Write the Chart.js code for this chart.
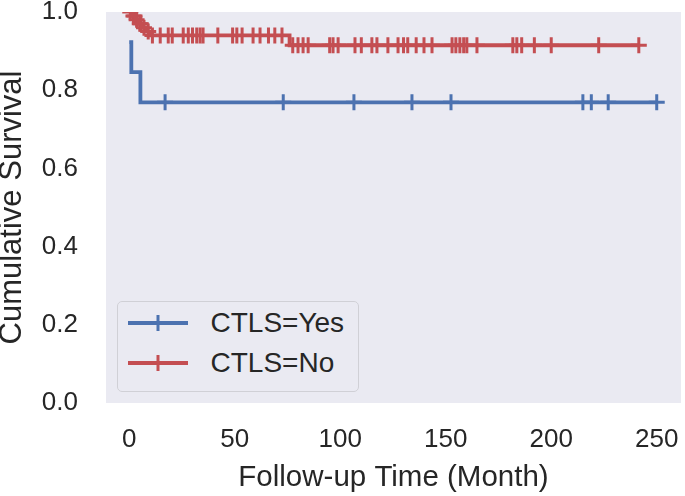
<!DOCTYPE html>
<html>
<head>
<meta charset="utf-8">
<script src="https://cdn.jsdelivr.net/npm/chart.js@4.4.1/dist/chart.umd.min.js"></script>
<style>
  body { margin: 0; background: #fff; }
  #wrap { position: relative; width: 685px; height: 496px; }
  #legend {
    position: absolute; left: 117px; top: 301px; width: 242px; height: 91px;
    box-sizing: border-box; border: 1.5px solid #d0d0d6; border-radius: 5px;
    background: #eaeaf2;
    font-family: "Liberation Sans", Arial, sans-serif; font-size: 28px; color: #262626;
  }
  .row { position: absolute; left: 9.5px; height: 30px; display: flex; align-items: center; }
  .row svg { margin-right: 23px; }
</style>
</head>
<body>
<div id="wrap">
  <canvas id="chart" width="685" height="496"></canvas>
  <div id="legend"></div>
</div>
<script>
// Kaplan-Meier steps: event times and survival after each event
const yesTimes = [0, 1, 5.3, 250]
const yesSurvival = [0.923, 0.846, 0.769, 0.769]
const yesCensored = [17, 73, 106.5, 134, 152.5, 215, 219, 227, 250]

const noTimes = [0, 1.5, 3, 4.5, 6, 8, 10, 76, 241.5]
const noSurvival = [1, 0.99, 0.98, 0.97, 0.96, 0.95, 0.94, 0.915, 0.915]
const noCensored = [0.5, 2, 2.5, 3.5, 5, 5.5, 7, 9, 11, 14.7, 18.5, 20.4, 25.6, 28, 30, 32, 33.6,
  35, 42, 49, 51, 53.5, 58.7, 62, 66, 69, 72.4, 77.5, 80, 82.4, 84.8, 95, 96.6, 99, 107, 110,
  115, 117.4, 122.6, 127.4, 130, 132, 136, 139.7, 143.5, 153, 154.8, 156.7, 158.5, 160, 164.8,
  181.8, 183.7, 186, 192, 200, 222.5, 241.5]

const groups = ['CTLS=Yes', 'CTLS=No']
const colors = ['#4c72b0', '#c44e52']

const xTicks = [0, 50, 100, 150, 200, 250]
const yTicks = [0, 0.2, 0.4, 0.6, 0.8, 1.0]

function survivalAt (times, surv, t) {
  let value = surv[0]
  times.forEach((time, i) => { if (time <= t) value = surv[i] })
  return value
}

function curve (times, surv) {
  return times.map((t, i) => ({ x: t, y: surv[i] }))
}

function censorMarks (censored, times, surv) {
  return censored.map((t) => ({ x: t, y: survivalAt(times, surv, t) }))
}

function lineSet (label, data, color) {
  return {
    label: label,
    data: data,
    showLine: true,
    stepped: true,
    borderColor: color,
    borderWidth: 3.8,
    pointRadius: 0,
    fill: false
  }
}

function censorSet (label, data, color) {
  return {
    label: label,
    data: data,
    showLine: false,
    pointStyle: 'cross',
    pointRadius: 8,
    pointBorderWidth: 3,
    borderColor: color,
    backgroundColor: color
  }
}

function noPadding (scale) {
  scale.paddingTop = 0
  scale.paddingBottom = 0
  scale.paddingLeft = 0
  scale.paddingRight = 0
}

const plotBackground = {
  id: 'plotBackground',
  beforeDraw (chart) {
    const { ctx, chartArea } = chart
    ctx.save()
    ctx.fillStyle = '#eaeaf2'
    ctx.fillRect(chartArea.left, chartArea.top, chartArea.right - chartArea.left, chartArea.bottom - chartArea.top)
    ctx.restore()
  }
}

Chart.defaults.font.family = "'Liberation Sans', Arial, sans-serif"
Chart.defaults.color = '#262626'

new Chart(document.getElementById('chart').getContext('2d'), {
  type: 'scatter',
  data: {
    datasets: [
      lineSet(groups[0], curve(yesTimes, yesSurvival), colors[0]),
      censorSet(groups[0], censorMarks(yesCensored, yesTimes, yesSurvival), colors[0]),
      lineSet(groups[1], curve(noTimes, noSurvival), colors[1]),
      censorSet(groups[1], censorMarks(noCensored, noTimes, noSurvival), colors[1])
    ]
  },
  options: {
    responsive: false,
    animation: false,
    layout: { autoPadding: false, padding: { top: 12, right: 4, left: 0, bottom: 0 } },
    plugins: { legend: { display: false }, tooltip: { enabled: false } },
    scales: {
      x: {
        type: 'linear',
        min: -11,
        max: 261.5,
        grid: { display: false, drawTicks: false },
        border: { display: false },
        afterBuildTicks: (scale) => { scale.ticks = xTicks.map((v) => ({ value: v })) },
        afterFit: (scale) => { scale.height = 93; noPadding(scale) },
        ticks: { padding: 21, font: { size: 26 }, color: '#262626', maxRotation: 0 },
        title: {
          display: true,
          text: 'Follow-up Time (Month)',
          font: { size: 29.5 },
          color: '#262626',
          padding: { top: 0, bottom: 0 }
        }
      },
      y: {
        min: 0,
        max: 1,
        grid: { display: false, drawTicks: false },
        border: { display: false },
        afterBuildTicks: (scale) => { scale.ticks = yTicks.map((v) => ({ value: v })) },
        afterFit: (scale) => { scale.width = 106; noPadding(scale) },
        ticks: {
          padding: 28,
          font: { size: 26, lineHeight: 0.9 },
          color: '#262626',
          callback: (v) => v.toFixed(1)
        },
        title: {
          display: true,
          text: 'Cumulative Survival',
          font: { size: 31, lineHeight: 1 },
          color: '#262626',
          padding: { top: -3.5, bottom: 0 }
        }
      }
    }
  },
  plugins: [plotBackground]
})

// legend drawn as html so the handle can show line + censor mark
const legend = document.getElementById('legend')
groups.forEach((name, i) => {
  const row = document.createElement('div')
  row.className = 'row'
  row.style.top = (i === 0 ? 5.5 : 45.5) + 'px'
  row.innerHTML =
    '<svg width="60" height="18"><line x1="0" y1="9" x2="60" y2="9" stroke="' + colors[i] +
    '" stroke-width="3.8"/><line x1="30" y1="1" x2="30" y2="17" stroke="' + colors[i] +
    '" stroke-width="3"/></svg><span>' + name + '</span>'
  legend.appendChild(row)
})
</script>
</body>
</html>
